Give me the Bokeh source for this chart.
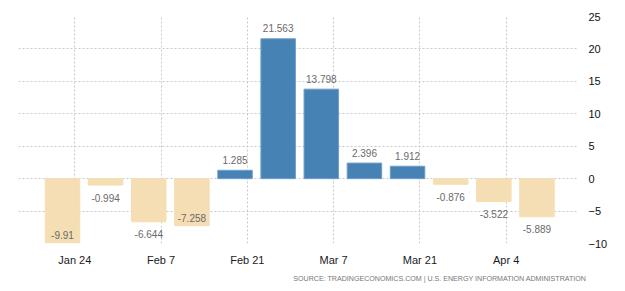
import numpy as np
from bokeh.plotting import figure
from bokeh.models import ColumnDataSource, FixedTicker, Range1d, Title
from bokeh.embed import file_html
from bokeh.resources import INLINE
from bokeh.core.properties import value

# ---- data ----
weeks = ["2021-01-22", "2021-01-29", "2021-02-05", "2021-02-12", "2021-02-19", "2021-02-26",
         "2021-03-05", "2021-03-12", "2021-03-19", "2021-03-26", "2021-04-02", "2021-04-09"]
changes = [-9.91, -0.994, -6.644, -7.258, 1.285, 21.563, 13.798, 2.396, 1.912, -0.876, -3.522, -5.889]
tick_dates = ["2021-01-24", "2021-02-07", "2021-02-21", "2021-03-07", "2021-03-21", "2021-04-04"]
tick_labels = ["Jan 24", "Feb 7", "Feb 21", "Mar 7", "Mar 21", "Apr 4"]
y_ticks = [-10, -5, 0, 5, 10, 15, 20, 25]
source_note = "SOURCE: TRADINGECONOMICS.COM  |  U.S. ENERGY INFORMATION ADMINISTRATION"

DAY = 86400000.0
def to_ms(s):
    return float(np.datetime64(s, "ms").astype("int64"))

x_ms = [to_ms(d) for d in weeks]
tick_ms = [to_ms(d) for d in tick_dates]

Y0, Y1 = -10, 25
W, H = 625, 291
BL, BR, BT, BB = 18, 47, 16, 48
frame_h = H - BT - BB
ppu = frame_h / (Y1 - Y0)

pos_color, neg_color = "#4682b4", "#f5deb3"
fills = [pos_color if v >= 0 else neg_color for v in changes]
lines = ["#6f9ecb" if v >= 0 else neg_color for v in changes]
texts = [("%g" % v) for v in changes]
offs = []
for v in changes:
    if v >= 0:
        offs.append(-10.5)
    else:
        below = v - 18 / ppu
        offs.append(12.5 if below >= Y0 else -8.0)

src = ColumnDataSource(dict(x=x_ms, top=changes, fill=fills, line=lines, txt=texts, off=offs))

p = figure(width=W, height=H, x_axis_type="datetime", y_axis_location="right",
           output_backend="svg", toolbar_location=None,
           x_range=Range1d(x_ms[0] - 7.14 * DAY, x_ms[0] + 83.74 * DAY),
           y_range=Range1d(Y0, Y1),
           min_border_left=BL, min_border_right=BR, min_border_top=BT, min_border_bottom=BB)
p.outline_line_color = None
p.background_fill_color = "white"

p.vbar(x="x", top="top", bottom=0, width=0.8 * 7 * DAY, fill_color="fill", line_color="line",
       line_width=1, source=src)
p.text(x="x", y="top", text="txt", y_offset="off", source=src, text_align="center",
       text_baseline="middle", text_font=value("Liberation Sans"), text_font_size="10px",
       text_color="#6a6a6a")

xa = p.xaxis[0]
xa.ticker = FixedTicker(ticks=tick_ms)
xa.major_label_overrides = {t: l for t, l in zip(tick_ms, tick_labels)}
xa.axis_line_color = None
xa.major_tick_line_color = None
xa.minor_tick_line_color = None
xa.major_label_standoff = 4
xa.major_label_text_font = "Liberation Sans"
xa.major_label_text_font_size = "11px"
xa.major_label_text_color = "#1a1a1a"

ya = p.yaxis[0]
ya.ticker = FixedTicker(ticks=y_ticks)
ya.axis_line_color = None
ya.major_tick_line_color = None
ya.minor_tick_line_color = None
ya.major_label_standoff = 4
ya.major_label_text_font = "Liberation Sans"
ya.major_label_text_font_size = "11px"
ya.major_label_text_color = "#111111"

for g in (p.xgrid[0], p.ygrid[0]):
    g.grid_line_color = "#c8c8c8"
    g.grid_line_dash = "2 2"
    g.grid_line_width = 1

p.add_layout(Title(text=source_note, align="right", text_font="Liberation Sans",
                   text_font_size="7.1px", text_font_style="normal", text_color="#777777",
                   offset=-12, standoff=8), "below")

open("out.html", "w").write(file_html(p, INLINE))
